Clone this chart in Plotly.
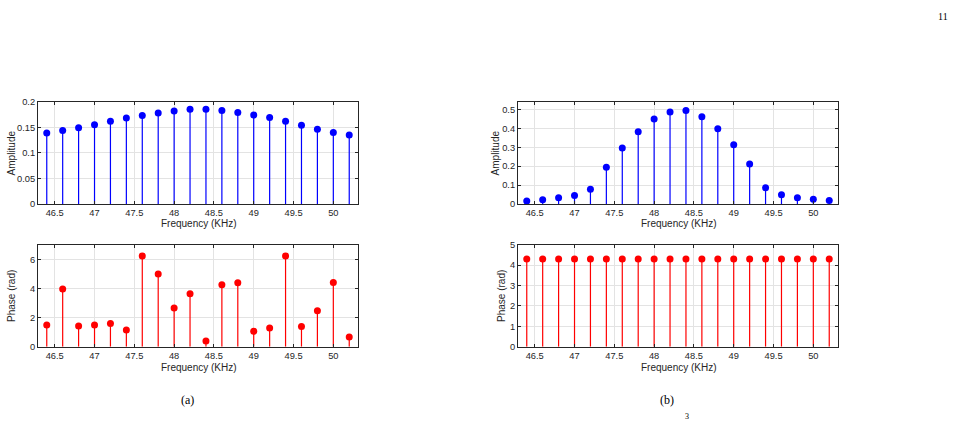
import plotly.graph_objects as go

freq = [46.4, 46.6, 46.8, 47.0, 47.2, 47.4, 47.6, 47.8, 48.0, 48.2,
        48.4, 48.6, 48.8, 49.0, 49.2, 49.4, 49.6, 49.8, 50.0, 50.2]
amp_a = [0.139, 0.144, 0.149, 0.155, 0.162, 0.168, 0.173, 0.178, 0.182, 0.185,
         0.185, 0.183, 0.179, 0.174, 0.169, 0.162, 0.154, 0.146, 0.140, 0.135]
phase_a = [1.50, 3.97, 1.43, 1.50, 1.59, 1.15, 6.22, 4.99, 2.65, 3.64,
           0.40, 4.26, 4.39, 1.06, 1.28, 6.22, 1.39, 2.47, 4.41, 0.66]
amp_b = [0.017, 0.024, 0.034, 0.046, 0.079, 0.195, 0.296, 0.382, 0.449, 0.486,
         0.493, 0.461, 0.397, 0.313, 0.212, 0.087, 0.050, 0.034, 0.026, 0.019]
phase_b = [4.3] * 20

xtick_vals = [46.5, 47, 47.5, 48, 48.5, 49, 49.5, 50]
xtick_text = ["46.5", "47", "47.5", "48", "48.5", "49", "49.5", "50"]
yticks_amp_a = [0, 0.05, 0.1, 0.15, 0.2]
yticks_amp_a_text = ["0", "0.05", "0.1", "0.15", "0.2"]
yticks_ph_a = [0, 2, 4, 6]
yticks_amp_b = [0, 0.1, 0.2, 0.3, 0.4, 0.5]
yticks_amp_b_text = ["0", "0.1", "0.2", "0.3", "0.4", "0.5"]
yticks_ph_b = [0, 1, 2, 3, 4, 5]

W, H = 957, 424
AX = "#262626"
GRID = "#e3e3e3"
FONT = "Liberation Sans, Arial, sans-serif"
TICK_SIZE = 9.3
TITLE_SIZE = 10

fig = go.Figure()

def stem(x, y, color, xa, ya):
    sx, sy = [], []
    for xi, yi in zip(x, y):
        sx += [xi, xi, None]
        sy += [0, yi, None]
    fig.add_trace(go.Scatter(x=sx, y=sy, mode="lines", line=dict(color=color, width=1.2),
                             xaxis=xa, yaxis=ya, showlegend=False, hoverinfo="skip"))
    fig.add_trace(go.Scatter(x=x, y=y, mode="markers", marker=dict(color=color, size=7),
                             xaxis=xa, yaxis=ya, showlegend=False))

stem(freq, amp_a, "#0000ff", "x", "y")
stem(freq, phase_a, "#ff0000", "x2", "y2")
stem(freq, amp_b, "#0000ff", "x3", "y3")
stem(freq, phase_b, "#ff0000", "x4", "y4")

def px_x(a, b):
    return [a / W, b / W]

def px_y(top, bottom):
    return [1 - bottom / H, 1 - top / H]

common_x = dict(range=[46.29, 50.31], tickvals=xtick_vals, ticktext=xtick_text,
                showline=True, mirror="ticks", linecolor=AX, linewidth=1,
                ticks="inside", ticklen=3, tickcolor=AX, showgrid=True, gridcolor=GRID,
                zeroline=False, tickfont=dict(family=FONT, size=TICK_SIZE, color=AX))
common_y = dict(showline=True, mirror="ticks", linecolor=AX, linewidth=1,
                ticks="inside", ticklen=3, tickcolor=AX, showgrid=True, gridcolor=GRID,
                zeroline=False, tickfont=dict(family=FONT, size=TICK_SIZE, color=AX))

L = px_x(38, 358)
R = px_x(518, 838)
T = px_y(99, 204)
B = px_y(245.5, 350)

fig.update_layout(
    width=W, height=H, margin=dict(l=0, r=0, t=0, b=0),
    paper_bgcolor="white", plot_bgcolor="white",
    xaxis=dict(domain=L, anchor="y", **common_x),
    yaxis=dict(domain=T, anchor="x", range=[0, 0.2], tickvals=yticks_amp_a,
               ticktext=yticks_amp_a_text, **common_y),
    xaxis2=dict(domain=L, anchor="y2", **common_x),
    yaxis2=dict(domain=B, anchor="x2", range=[0, 7], tickvals=yticks_ph_a, **common_y),
    xaxis3=dict(domain=R, anchor="y3", **common_x),
    yaxis3=dict(domain=T, anchor="x3", range=[0, 0.54], tickvals=yticks_amp_b,
                ticktext=yticks_amp_b_text, **common_y),
    xaxis4=dict(domain=R, anchor="y4", **common_x),
    yaxis4=dict(domain=B, anchor="x4", range=[0, 5], tickvals=yticks_ph_b, **common_y),
)

def ann(text, x, y, size=TITLE_SIZE, family=FONT, color=AX, angle=0):
    fig.add_annotation(text=text, x=x / W, y=1 - y / H, xref="paper", yref="paper",
                       showarrow=False, textangle=angle, xanchor="center", yanchor="middle",
                       font=dict(family=family, size=size, color=color))

ann("Frequency (KHz)", 199, 224)
ann("Frequency (KHz)", 199, 371)
ann("Frequency (KHz)", 679, 224)
ann("Frequency (KHz)", 679, 371)
ann("Amplitude", 11, 152, angle=-90)
ann("Phase (rad)", 12, 298, angle=-90)
ann("Amplitude", 495, 152, angle=-90)
ann("Phase (rad)", 502, 298, angle=-90)

SERIF = "Liberation Serif, Times New Roman, serif"
ann("(a)", 187, 405, size=12, family=SERIF, color="#000000")
ann("(b)", 667, 405, size=12, family=SERIF, color="#000000")
ann("11", 943, 12, size=10, family=SERIF, color="#000000")
ann("3", 687, 421, size=8, family=SERIF, color="#000000")

fig.write_html("out.html")
